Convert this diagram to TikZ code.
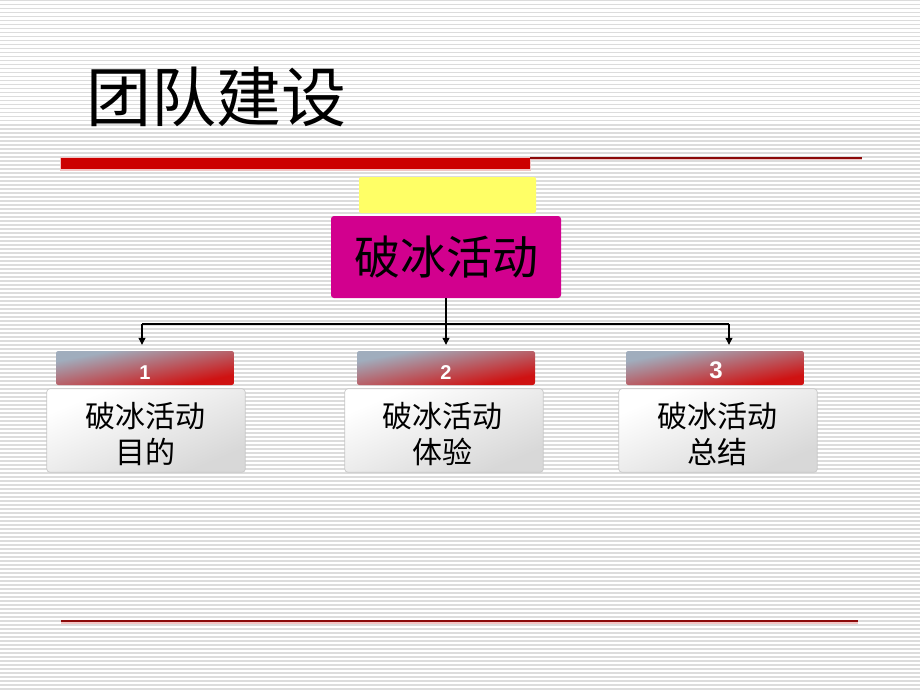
\documentclass[tikz,border=0pt]{standalone}
\usepackage{fontspec}
\setmainfont{Liberation Sans}
\newfontfamily\cjk{Noto Sans CJK SC}
\usetikzlibrary{arrows.meta}
\definecolor{stripe}{HTML}{DCDCDC}
\definecolor{barred}{HTML}{CC0000}
\definecolor{darkline}{HTML}{8B0A0A}
\definecolor{pinkline}{HTML}{F2C4C4}
\definecolor{yellowbox}{HTML}{FFFF66}
\definecolor{magentabox}{HTML}{D2008E}
\definecolor{hdrgray}{HTML}{A0ADBD}
\definecolor{hdrmid}{HTML}{C27F8D}
\definecolor{hdrred}{HTML}{CF1212}
\definecolor{boxgray}{HTML}{D8D8D8}
\definecolor{boxborder}{HTML}{C8C8C8}
\begin{document}
\begin{tikzpicture}[x=1pt,y=-1pt,
  yellowstyle/.style={fill=yellowbox, rounded corners=2pt, minimum width=177pt, minimum height=36pt, inner sep=0pt},
  mainbox/.style={fill=magentabox, rounded corners=3pt, minimum width=230pt, minimum height=82pt, inner sep=0pt, font=\cjk\fontsize{46}{46}\selectfont, text=black},
  hdrbox/.style={minimum width=178pt, minimum height=34pt, inner sep=0pt},
  hdrshade/.style={left color=hdrgray, middle color=hdrmid, right color=hdrred, shading angle=45},
  numtext/.style={text=white, inner sep=0pt, font=\bfseries\fontsize{20}{20}\selectfont},
  itembox/.style={minimum width=198pt, minimum height=83pt, inner sep=0pt},
  itemshade/.style={left color=white, right color=boxgray, shading angle=45},
  itemtext/.style={align=center, inner sep=0pt, font=\cjk\fontsize{30}{36}\selectfont},
  conn/.style={draw=black, line width=1.1pt},
  arr/.style={conn, -{Triangle[length=7pt,width=7pt]}, shorten >=6pt}
]
\useasboundingbox (0,0) rectangle (920,690);
\fill[white] (0,0) rectangle (920,690);
\foreach \yy in {0,4,...,688} \fill[stripe] (0,\yy) rectangle (920,\yy+1.5);

% title
\node[anchor=west, inner sep=0pt, font=\cjk\fontsize{65}{65}\selectfont] (title) at (86,97) {团队建设};

% header rule
\fill[pinkline] (60,157) rectangle (531,170.5);
\fill[barred] (61,158) rectangle (530,169);
\fill[pinkline] (530,158) rectangle (862,160);
\fill[darkline] (530,157.2) rectangle (862,158.8);

% bottom rule
\fill[pinkline] (61,620) rectangle (858,623.5);
\fill[darkline] (61,620.3) rectangle (858,621.8);

% boxes
\node[yellowstyle] (yel) at (447.5,195) {};
\node[mainbox] (main) at (446,257) {破冰活动};

\node[hdrbox] (h1) at (145,368) {};
\node[hdrbox] (h2) at (446,368) {};
\node[hdrbox] (h3) at (715,368) {};
\foreach \h in {h1,h2,h3}{
  \begin{scope}
    \clip[rounded corners=3pt] (\h.south west) rectangle (\h.north east);
    \shade[hdrshade, transform canvas={shift={(\h.center)}, xscale=178/34}] (-17,-17) rectangle (17,17);
  \end{scope}
}
\node[numtext] (n1) at (145,373) {1};
\node[numtext] (n2) at (446,373) {2};
\node[numtext, font=\bfseries\fontsize{24}{24}\selectfont] (n3) at (716,370) {3};

\node[itembox] (b1) at (146,430.5) {};
\node[itembox] (b2) at (444,430.5) {};
\node[itembox] (b3) at (718,430.5) {};
\foreach \b in {b1,b2,b3}{
  \begin{scope}
    \clip[rounded corners=3pt] (\b.south west) rectangle (\b.north east);
    \shade[itemshade, transform canvas={shift={(\b.center)}, xscale=198/83}] (-41.5,-41.5) rectangle (41.5,41.5);
  \end{scope}
  \draw[boxborder, line width=0.7pt, rounded corners=3pt] (\b.south west) rectangle (\b.north east);
}
\node[itemtext] (t1) at (145,434) {破冰活动\\目的};
\node[itemtext] (t2) at (442,434) {破冰活动\\体验};
\node[itemtext] (t3) at (717,434) {破冰活动\\总结};

% connectors
\coordinate (jc) at (446,324);
\coordinate (jl) at (142,324);
\coordinate (jr) at (729,324);
\draw[conn] (main.south) -- (jc);
\draw[conn] (jl) -- (jr);
\draw[arr] (jl) -- (jl |- h1.north);
\draw[arr] (jc) -- (h2.north);
\draw[arr] (jr) -- (jr |- h3.north);
\end{tikzpicture}
\end{document}
